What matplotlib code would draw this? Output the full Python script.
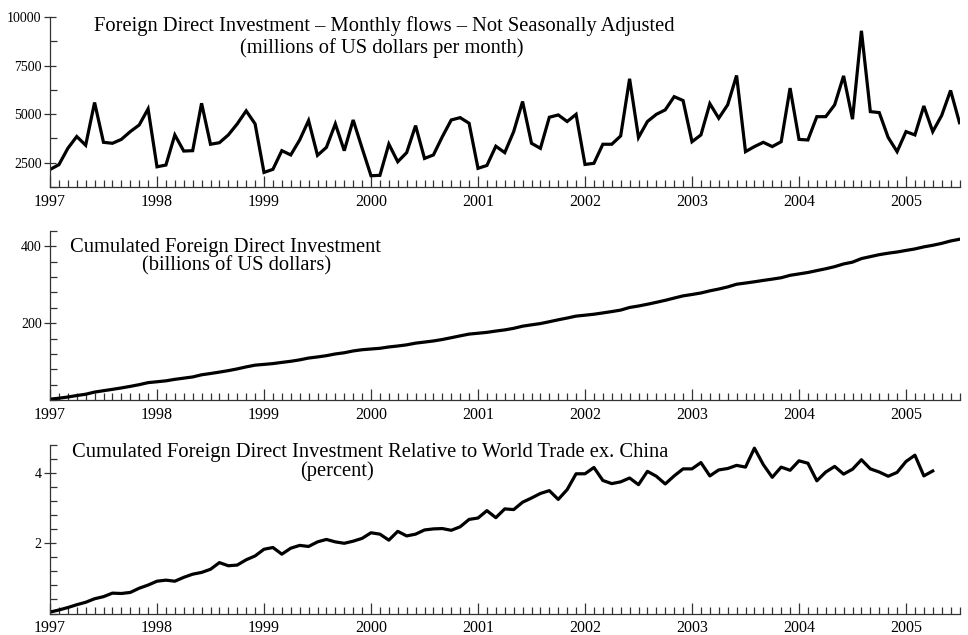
import matplotlib
matplotlib.use("Agg")
import matplotlib.pyplot as plt
import numpy as np
from matplotlib.ticker import MultipleLocator

plt.rcParams["font.family"] = ["Liberation Serif", "DejaVu Serif"]

# monthly flows, Jan 1997 - Jul 2005 (millions of US dollars)
monthly_fdi = [
    2150, 2400, 3240, 3850, 3400, 5600, 3550, 3500, 3700, 4100, 4440, 5270,
    2290, 2380, 3930, 3100, 3120, 5560, 3450, 3530, 3930, 4500, 5170, 4500,
    2000, 2160, 3120, 2900, 3670, 4670, 2880, 3290, 4500, 3120, 4700, 3250,
    1830, 1850, 3460, 2550, 3020, 4410, 2720, 2900, 3840, 4700, 4820, 4530,
    2210, 2360, 3350, 3020, 4100, 5650, 3500, 3240, 4840, 4960, 4620, 4990,
    2410, 2470, 3450, 3450, 3880, 6820, 3800, 4620, 4990, 5220, 5900, 5700,
    3580, 3930, 5540, 4790, 5480, 6990, 3070, 3330, 3550, 3330, 3580, 6340,
    3700, 3670, 4870, 4870, 5480, 6970, 4740, 9290, 5130, 5080, 3800, 3070,
    4100, 3930, 5420, 4100, 4930, 6220, 4560,
]

# cumulated flows (billions of US dollars)
cumulated_fdi = [
    2.2, 4.6, 7.8, 11.6, 15.0, 20.6, 24.2, 27.7, 31.4, 35.5, 39.9, 45.2,
    47.5, 49.9, 53.8, 56.9, 60.0, 65.6, 69.0, 72.6, 76.5, 81.0, 86.2, 90.7,
    92.7, 94.8, 97.9, 100.8, 104.5, 109.2, 112.1, 115.4, 119.9, 123.0, 127.7, 130.9,
    132.8, 134.6, 138.1, 140.6, 143.6, 148.0, 150.8, 153.7, 157.5, 162.2, 167.0, 171.6,
    173.8, 176.1, 179.5, 182.5, 186.6, 192.2, 195.7, 199.0, 203.8, 208.8, 213.4, 218.4,
    220.8, 223.3, 226.7, 230.2, 234.1, 240.9, 244.7, 249.3, 254.3, 259.5, 265.4, 271.1,
    274.7, 278.6, 284.2, 288.9, 294.4, 301.4, 304.5, 307.8, 311.4, 314.7, 318.3, 324.6,
    328.3, 332.0, 336.9, 341.7, 347.2, 354.2, 358.9, 368.2, 373.3, 378.4, 382.2, 385.3,
    389.4, 393.3, 398.7, 402.8, 407.8, 414.0, 418.5,
]

# cumulated FDI relative to world trade ex. China (percent), Jan 1997 - Apr 2005
relative_fdi = [
    0.04, 0.10, 0.17, 0.25, 0.32, 0.42, 0.48, 0.58, 0.57, 0.60, 0.72, 0.81,
    0.92, 0.95, 0.92, 1.03, 1.12, 1.17, 1.26, 1.45, 1.36, 1.38, 1.53, 1.64,
    1.83, 1.88, 1.69, 1.86, 1.94, 1.91, 2.04, 2.11, 2.04, 2.00, 2.06, 2.14,
    2.30, 2.26, 2.09, 2.34, 2.21, 2.26, 2.38, 2.41, 2.42, 2.37, 2.47, 2.68,
    2.72, 2.93, 2.73, 2.98, 2.96, 3.17, 3.29, 3.42, 3.50, 3.25, 3.53, 3.98,
    3.98, 4.16, 3.79, 3.70, 3.75, 3.86, 3.67, 4.05, 3.91, 3.69, 3.92, 4.12,
    4.12, 4.30, 3.92, 4.09, 4.13, 4.22, 4.17, 4.71, 4.24, 3.88, 4.17, 4.08,
    4.35, 4.28, 3.78, 4.03, 4.19, 3.97, 4.11, 4.38, 4.12, 4.03, 3.91, 4.02,
    4.33, 4.51, 3.92, 4.06,
]

years = list(range(1997, 2006))
start_year = 1997

W, H = 968, 635
fig = plt.figure(figsize=(W / 100, H / 100), dpi=100, facecolor="white")


def make_axis(top_px, bottom_px):
    left, right = 50, 959.5
    return fig.add_axes([left / W, 1 - bottom_px / H,
                         (right - left) / W, (bottom_px - top_px) / H])


def style_axis(ax, ylim, yminor, yticks):
    for side in ("top", "right"):
        ax.spines[side].set_visible(False)
    for side in ("left", "bottom"):
        ax.spines[side].set_linewidth(0.9)
        ax.spines[side].set_color("#333333")
    ax.set_xlim(start_year, 2005.5)
    ax.set_ylim(*ylim)
    ax.set_xticks(years)
    ax.set_xticklabels([str(y) for y in years])
    ax.xaxis.set_minor_locator(MultipleLocator(1 / 12))
    ax.set_yticks(yticks)
    ax.yaxis.set_minor_locator(MultipleLocator(yminor))
    ax.tick_params(axis="x", which="major", direction="in", length=8, width=0.9,
                   labelsize=11.5, pad=5, color="#333333")
    ax.tick_params(axis="x", which="minor", direction="in", length=5, width=0.9,
                   color="#333333")
    ax.tick_params(axis="y", which="major", direction="inout", length=9, width=0.9,
                   labelsize=10, pad=1.5, color="#333333")
    ax.tick_params(axis="y", which="minor", direction="in", length=5, width=0.9,
                   color="#333333")


def title(x_px, y_px, s):
    fig.text(x_px / W, 1 - y_px / H, s, ha="center", va="baseline", fontsize=14.8)


def months(n):
    return [start_year + i / 12 for i in range(n)]


# panel 1: monthly flows
ax1 = make_axis(17, 187)
ax1.plot(months(len(monthly_fdi)), monthly_fdi, color="black", lw=2.3,
         solid_joinstyle="miter")
style_axis(ax1, (1250, 10000), 1250, [2500, 5000, 7500, 10000])
title(384, 31, "Foreign Direct Investment \u2013 Monthly flows \u2013 Not Seasonally Adjusted")
title(382, 53, "(millions of US dollars per month)")

# panel 2: cumulated
ax2 = make_axis(231, 400)
ax2.plot(months(len(cumulated_fdi)), cumulated_fdi, color="black", lw=2.3)
style_axis(ax2, (0, 440), 40, [200, 400])
title(225, 252, "Cumulated Foreign Direct Investment")
title(237, 270, "(billions of US dollars)")

# panel 3: relative to world trade
ax3 = make_axis(445, 613.5)
ax3.plot(months(len(relative_fdi)), relative_fdi, color="black", lw=2.3)
style_axis(ax3, (0, 4.8), 0.4, [2, 4])
title(370, 457, "Cumulated Foreign Direct Investment Relative to World Trade ex. China")
title(337, 476, "(percent)")

fig.savefig("out.png", dpi=100, facecolor="white")
plt.close(fig)
